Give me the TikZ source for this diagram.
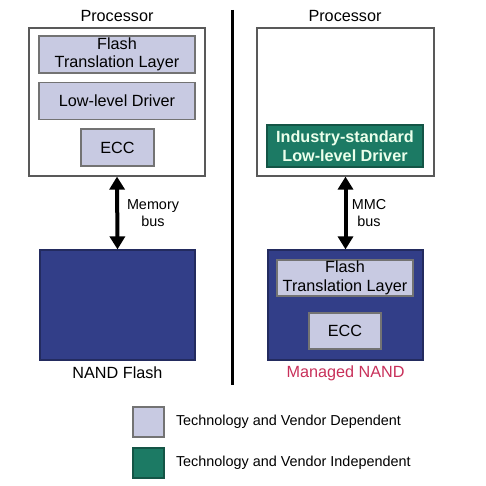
\documentclass[tikz,border=0pt]{standalone}
\usepackage{fontspec}
\setmainfont{Liberation Sans}
\usepackage{xcolor}
\usepackage{tikz}
\usetikzlibrary{
    positioning,
    arrows.meta
}
\definecolor{lavender}{RGB}{200,202,226}
\definecolor{nandblue}{RGB}{50,62,136}
\definecolor{stdgreen}{RGB}{28,122,100}
\definecolor{managedred}{RGB}{200,48,90}
\tikzset{
    procbox/.style={
        rectangle, draw=black!65, line width=0.6pt, fill=white
    },
    layer/.style={
        rectangle, draw=black!55, line width=0.6pt, fill=lavender,
        align=center, font=\fontsize{8.1}{9.2}\selectfont
    },
    stdlayer/.style={
        rectangle, draw=stdgreen!70!black, line width=0.6pt, fill=stdgreen,
        align=center, text=white!92!green, font=\bfseries\fontsize{8.1}{9.6}\selectfont
    },
    nandbox/.style={
        rectangle, draw=nandblue!70!black, line width=0.6pt, fill=nandblue
    },
    caption/.style={
        font=\fontsize{8.1}{9.2}\selectfont
    },
    buslabel/.style={
        align=center, font=\fontsize{7.2}{8.4}\selectfont
    },
    legendtext/.style={
        anchor=west, font=\fontsize{7.2}{8.4}\selectfont
    },
    busarrow/.style={
        {Triangle[width=7.5pt,length=6.5pt]}-{Triangle[width=7.5pt,length=6.5pt]},
        line width=2pt, draw=black
    }
}

\begin{document}
\begin{tikzpicture}[x=0.5pt, y=-0.5pt, inner sep=0pt]

        \useasboundingbox (0,0) rectangle (486,486);

        % Raw NAND side
        \node[procbox, minimum width=88pt, minimum height=74pt] (proc_l) at (117,102) {};
        \node[caption] (proc_l_title) at (117,16) {Processor};
        \node[layer, minimum width=78pt, minimum height=18.5pt] (ftl_l) at (117,54.5) {Flash\\Translation Layer};
        \node[layer, minimum width=78pt, minimum height=18.5pt, below=4pt of ftl_l] (lld_l) {Low-level Driver};
        \node[layer, minimum width=36.5pt, minimum height=18.5pt] (ecc_l) at (117.5,147.5) {ECC};

        \node[nandbox, minimum width=77.5pt, minimum height=55pt] (nand_l) at (117.5,305) {};
        \node[caption] (nand_l_title) at (117.5,373) {NAND Flash};

        \draw[busarrow] (proc_l.south) -- (nand_l.north);
        \node[buslabel] (membus) at (153,213) {Memory\\bus};

        % Divider
        \coordinate (div_top) at (232,10);
        \coordinate (div_bot) at (232,385);
        \draw[line width=1.5pt] (div_top) -- (div_bot);

        % Managed NAND side
        \node[procbox, minimum width=88.5pt, minimum height=74pt] (proc_r) at (345.5,102) {};
        \node[caption] (proc_r_title) at (345,16) {Processor};
        \node[stdlayer, minimum width=78pt, minimum height=21pt] (drv_r) at (345,146) {Industry-standard\\Low-level Driver};

        \node[nandbox, minimum width=77.5pt, minimum height=55pt] (nand_r) at (345.5,305) {};
        \node[layer, minimum width=68pt, minimum height=18pt] (ftl_r) at (345,278) {Flash\\Translation Layer};
        \node[layer, minimum width=36pt, minimum height=18pt] (ecc_r) at (345,331) {ECC};
        \node[caption, text=managedred] (nand_r_title) at (345.5,373) {Managed NAND};

        \draw[busarrow] (proc_r.south -| nand_r.north) -- (nand_r.north);
        \node[buslabel] (mmcbus) at (369,213) {MMC\\bus};

        % Legend
        \node[layer, minimum width=15.5pt, minimum height=15pt] (key_dep) at (148.5,422) {};
        \node[stdlayer, minimum width=15.5pt, minimum height=15pt] (key_ind) at (148.5,463) {};
        \node[legendtext, right=5.5pt of key_dep] {Technology and Vendor Dependent};
        \node[legendtext, right=5.5pt of key_ind] {Technology and Vendor Independent};

    \end{tikzpicture}
\end{document}
